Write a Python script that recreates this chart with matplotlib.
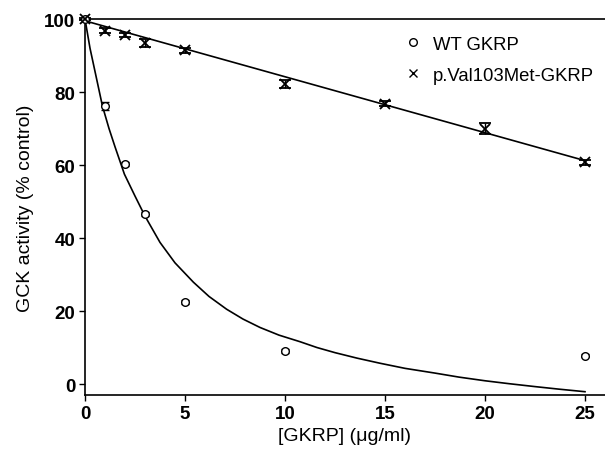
import matplotlib
matplotlib.use("Agg")
import matplotlib.pyplot as plt

plt.rcParams['font.family'] = ['Liberation Sans', 'DejaVu Sans']

# Data
conc = [0, 1, 2, 3, 5, 10, 25]
wt_activity = [100, 76.2, 60.3, 46.5, 22.5, 9.0, 7.8]
wt_err = [0.3, 1.2, 0.5, 0.5, 0.5, 0.5, 0.5]

mut_conc = [0, 1, 2, 3, 5, 10, 15, 20, 25]
mut_activity = [100, 96.8, 95.6, 93.4, 91.4, 82.2, 76.8, 70.0, 60.7]
mut_err = [0.3, 0.7, 0.6, 1.2, 0.6, 1.2, 0.7, 1.5, 0.6]

# Fitted curves
wt_fit_x = [0, 0.25, 0.58, 0.87, 1.2, 1.5, 1.97, 2.5, 3.0, 3.75, 4.5, 5.42, 6.2,
            7.08, 7.9, 8.75, 9.7, 10.75, 11.6, 12.5, 13.6, 14.75, 16.0, 17.5, 18.7,
            20, 21.2, 22.5, 23.7, 25]
wt_fit_y = [100, 92.0, 83.6, 76.2, 70.0, 65.0, 57.5, 51.5, 46.0, 38.8, 33.2, 27.9, 24.0,
            20.5, 17.8, 15.5, 13.4, 11.6, 10.0, 8.6, 7.1, 5.7, 4.3, 3.0, 1.9,
            0.9, 0.1, -0.7, -1.4, -2.1]
mut_fit_x = [0, 25]
mut_fit_y = [99.5, 61.2]

xticks = [0, 5, 10, 15, 20, 25]
yticks = [0, 20, 40, 60, 80, 100]

fig = plt.figure(figsize=(6.05, 4.52), dpi=100)
ax = fig.add_axes([85/605, 1-396/452, 1-85/605, (396-20)/452])

ax.plot(wt_fit_x, wt_fit_y, color='black', lw=1.2, zorder=2)
ax.plot(mut_fit_x, mut_fit_y, color='black', lw=1.2, zorder=2)

ax.errorbar(conc, wt_activity, yerr=wt_err, fmt='o', mfc='white', mec='black',
            mew=1.0, ms=5.5, ecolor='black', elinewidth=1.0, capsize=3,
            label='WT GKRP', zorder=3, clip_on=False)
ax.errorbar(mut_conc, mut_activity, yerr=mut_err, fmt='x', color='black',
            mew=1.3, ms=7, ecolor='black', elinewidth=1.0, capsize=4,
            label='p.Val103Met-GKRP', zorder=3, clip_on=False)

ax.set_xlim(0, 26)
ax.set_ylim(-3, 100)
ax.set_xticks(xticks)
ax.set_yticks(yticks)
ax.tick_params(direction='out', length=4, width=1.0, labelsize=13.5, pad=3)
for lab in ax.get_xticklabels() + ax.get_yticklabels():
    lab.set_fontweight('bold')

for s in ['left', 'bottom', 'top']:
    ax.spines[s].set_linewidth(1.2)
ax.spines['right'].set_visible(False)

ax.set_xlabel('[GKRP] (\u03bcg/ml)', fontsize=14, labelpad=4)
ax.set_ylabel('GCK activity (% control)', fontsize=14, labelpad=7)

handles = [
    plt.Line2D([], [], marker='o', ls='none', mfc='white', mec='black', ms=5.5, mew=1.0),
    plt.Line2D([], [], marker='x', ls='none', color='black', ms=6, mew=1.0),
]
ax.legend(handles, ['WT GKRP', 'p.Val103Met-GKRP'], loc='upper right',
          bbox_to_anchor=(1.0, 0.985), frameon=False, fontsize=13.3,
          handlelength=1.0, handletextpad=0.6, labelspacing=0.75, borderaxespad=0.2)

fig.savefig('out.png', dpi=100)
